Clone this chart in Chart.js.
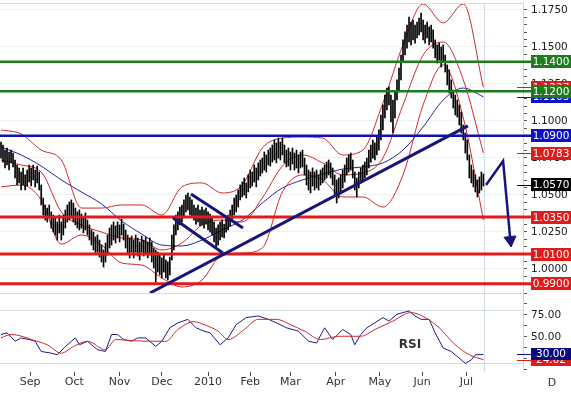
<!DOCTYPE html>
<html><head><meta charset="utf-8">
<script src="https://cdn.jsdelivr.net/npm/chart.js@4.4.1/dist/chart.umd.min.js"></script>
<style>
html,body{margin:0;padding:0;background:#fff;width:571px;height:393px;overflow:hidden}
canvas{position:absolute;left:0}
#pc{top:0}
#rc{top:290px}
</style></head><body>
<canvas id="pc" width="571" height="294"></canvas>
<canvas id="rc" width="571" height="103"></canvas>
<script>
// ---- Daily bars (USD/CHF, Aug 2009 - Jul 2010), bar index 0..240 ----
const highs = [
1.0857,1.0837,1.0803,1.0817,1.0790,1.0803,1.0783,1.0736,1.0702,1.0682,
1.0655,1.0682,1.0635,1.0668,1.0702,1.0682,1.0702,1.0668,1.0695,1.0655,
1.0567,1.0479,1.0432,1.0411,1.0432,1.0385,1.0364,1.0344,1.0317,1.0364,
1.0317,1.0364,1.0398,1.0432,1.0452,1.0466,1.0445,1.0411,1.0385,1.0398,
1.0371,1.0344,1.0378,1.0330,1.0297,1.0263,1.0249,1.0216,1.0229,1.0195,
1.0161,1.0128,1.0175,1.0229,1.0276,1.0297,1.0317,1.0290,1.0317,1.0297,
1.0337,1.0303,1.0263,1.0229,1.0209,1.0222,1.0195,1.0229,1.0209,1.0182,
1.0222,1.0195,1.0216,1.0182,1.0209,1.0182,1.0141,1.0128,1.0114,1.0094,
1.0074,1.0094,1.0060,1.0047,1.0080,1.0229,1.0297,1.0364,1.0385,1.0418,
1.0432,1.0466,1.0499,1.0513,1.0486,1.0466,1.0432,1.0411,1.0432,1.0398,
1.0418,1.0398,1.0411,1.0385,1.0371,1.0351,1.0317,1.0276,1.0297,1.0317,
1.0330,1.0303,1.0344,1.0364,1.0398,1.0432,1.0479,1.0499,1.0533,1.0567,
1.0587,1.0614,1.0581,1.0635,1.0668,1.0655,1.0702,1.0682,1.0716,1.0736,
1.0749,1.0790,1.0770,1.0803,1.0817,1.0837,1.0871,1.0851,1.0884,1.0857,
1.0884,1.0837,1.0803,1.0817,1.0790,1.0817,1.0783,1.0803,1.0770,1.0790,
1.0803,1.0749,1.0702,1.0668,1.0655,1.0682,1.0655,1.0668,1.0635,1.0668,
1.0682,1.0702,1.0722,1.0736,1.0716,1.0682,1.0635,1.0601,1.0614,1.0635,
1.0668,1.0702,1.0749,1.0770,1.0783,1.0736,1.0655,1.0614,1.0655,1.0682,
1.0702,1.0722,1.0749,1.0803,1.0837,1.0871,1.0851,1.0891,1.0939,1.1040,
1.1108,1.1175,1.1222,1.1229,1.1175,1.1141,1.1195,1.1277,1.1357,1.1445,
1.1547,1.1601,1.1648,1.1702,1.1668,1.1682,1.1648,1.1668,1.1695,1.1729,
1.1682,1.1648,1.1668,1.1635,1.1648,1.1615,1.1547,1.1513,1.1526,1.1499,
1.1513,1.1445,1.1378,1.1344,1.1277,1.1209,1.1175,1.1141,1.1108,1.1060,
1.0972,1.0918,1.0871,1.0770,1.0702,1.0668,1.0635,1.0601,1.0621,1.0655,
1.0641];
const lows = [
1.0749,1.0722,1.0682,1.0702,1.0668,1.0716,1.0689,1.0614,1.0567,1.0581,
1.0533,1.0567,1.0533,1.0560,1.0587,1.0560,1.0601,1.0554,1.0581,1.0533,
1.0432,1.0364,1.0330,1.0317,1.0344,1.0276,1.0249,1.0229,1.0195,1.0243,
1.0195,1.0229,1.0276,1.0317,1.0330,1.0344,1.0317,1.0297,1.0276,1.0263,
1.0276,1.0243,1.0263,1.0229,1.0195,1.0161,1.0128,1.0107,1.0114,1.0080,
1.0047,1.0013,1.0047,1.0094,1.0141,1.0161,1.0195,1.0175,1.0209,1.0182,
1.0229,1.0195,1.0141,1.0107,1.0074,1.0114,1.0074,1.0114,1.0087,1.0060,
1.0114,1.0087,1.0101,1.0074,1.0094,1.0047,1.0006,0.9911,0.9979,0.9959,
0.9939,0.9979,0.9939,0.9925,0.9959,1.0060,1.0128,1.0229,1.0263,1.0297,
1.0317,1.0344,1.0385,1.0398,1.0364,1.0351,1.0330,1.0303,1.0317,1.0290,
1.0297,1.0276,1.0303,1.0263,1.0249,1.0229,1.0182,1.0141,1.0161,1.0195,
1.0216,1.0209,1.0249,1.0263,1.0290,1.0330,1.0364,1.0385,1.0418,1.0466,
1.0486,1.0499,1.0479,1.0520,1.0547,1.0560,1.0587,1.0554,1.0601,1.0628,
1.0648,1.0668,1.0655,1.0702,1.0695,1.0722,1.0736,1.0716,1.0749,1.0736,
1.0770,1.0716,1.0689,1.0695,1.0668,1.0709,1.0668,1.0682,1.0648,1.0682,
1.0689,1.0635,1.0567,1.0533,1.0513,1.0560,1.0533,1.0547,1.0533,1.0567,
1.0581,1.0601,1.0614,1.0635,1.0614,1.0567,1.0499,1.0445,1.0479,1.0520,
1.0547,1.0587,1.0635,1.0655,1.0668,1.0614,1.0533,1.0486,1.0547,1.0581,
1.0601,1.0614,1.0635,1.0682,1.0722,1.0749,1.0736,1.0770,1.0803,1.0871,
1.0939,1.1020,1.1074,1.1108,1.0993,1.0918,1.1020,1.1141,1.1195,1.1277,
1.1398,1.1445,1.1492,1.1533,1.1513,1.1547,1.1526,1.1560,1.1581,1.1601,
1.1547,1.1526,1.1560,1.1513,1.1533,1.1492,1.1425,1.1391,1.1412,1.1364,
1.1398,1.1330,1.1243,1.1189,1.1155,1.1087,1.1040,1.1026,1.0972,1.0918,
1.0871,1.0783,1.0736,1.0614,1.0581,1.0554,1.0520,1.0486,1.0513,1.0533,
1.0560];

// ---- Indicator lines read at every 10th bar ----
const bandIdx  = [0,10,20,30,40,50,60,70,80,90,100,110,120,130,140,150,160,170,180,190,200,210,220,230,240];
const bbUpper  = [1.0939,1.0912,1.0803,1.0736,1.0411,1.0411,1.0432,1.0432,1.0364,1.0554,1.0581,1.0513,1.0567,1.0817,1.0884,1.0891,1.0884,1.0770,1.0803,1.1121,1.1513,1.1790,1.1662,1.1790,1.1227];
const bbMiddle = [1.0736,1.0702,1.0655,1.0385,1.0297,1.0249,1.0209,1.0195,1.0128,1.0175,1.0297,1.0330,1.0317,1.0479,1.0695,1.0770,1.0716,1.0635,1.0648,1.0749,1.1108,1.1445,1.1533,1.1277,1.0783];
const bbLower  = [1.0554,1.0567,1.0466,1.0168,1.0229,1.0161,1.0040,1.0026,0.9939,0.9878,0.9925,1.0094,1.0107,1.0141,1.0520,1.0635,1.0601,1.0486,1.0486,1.0418,1.0635,1.1108,1.1378,1.1020,1.0330];
const maBlue   = [1.0824,1.0770,1.0695,1.0601,1.0520,1.0439,1.0324,1.0236,1.0161,1.0155,1.0195,1.0263,1.0330,1.0445,1.0547,1.0601,1.0641,1.0675,1.0689,1.0716,1.0803,1.0959,1.1141,1.1222,1.1163];

// ---- RSI panel ----
const rsiIdx  = [0,3,7,10,14,17,20,25,28,32,37,39,43,48,52,55,58,61,65,68,72,77,80,84,88,93,97,101,104,109,113,117,122,128,133,137,142,148,153,157,161,165,170,174,176,179,182,186,190,193,197,200,203,206,209,213,216,220,224,227,231,234,236,240];
const rsiVals = [52.7,54.6,45,48.8,47,45,33.4,31.5,29.6,39,48.8,41,45,35.3,33.4,52.7,52.7,47,45,48.8,48.8,39.2,45,60.4,66,70,60.4,56.5,54.6,41,48.8,64,72,73.8,70,66,60.4,56.5,45,43,60.4,47,58.4,52.7,41,52.7,60.4,66,72,68,75.8,77.7,79.6,73.8,70,70,54.6,37.3,33.4,27.6,19.9,23.8,29.6,30];
const sigIdx  = [0,5,17,23,30,36,43,52,57,65,76,82,88,96,101,108,113,121,128,137,144,151,159,168,179,186,195,204,211,218,226,233,240];
const sigVals = [49,52.7,45.7,41,31.5,39,45,35.3,47,45.7,45,45,58.4,67.3,64,56.5,47,58.4,70,70,64,56.5,47,50.7,50.7,58.4,68,77.7,72,60.4,41,29.6,24.02];

// ---- Axis labels ----
const monthLabels = ['Sep','Oct','Nov','Dec','2010','Feb','Mar','Apr','May','Jun','Jul'];
const monthIdx    = [14.5,36.5,59,80,103,124,144,166.5,188.5,209.5,231.5];
const priceMajorTicks = [1.0000,1.0250,1.0500,1.0750,1.1000,1.1250,1.1500,1.1750];
const rsiMajorTicks = [25,50,75];
const rsiGuides = [20,80];

// ---- Support / resistance levels and drawn lines ----
const greenLevels = [1.1400,1.1200];
const blueLevels  = [1.0900];
const redLevels   = [1.0350,1.0100,0.9900];
const trendUp      = [[74.1,0.9837],[232.3,1.0966]];
const channelUpper = [[94.5,1.0506],[120.4,1.0276]];
const channelLower = [[85.6,1.0344],[110.4,1.0107]];
const forecastPath = [[241.3,1.0567],[249.8,1.0729],[253.4,1.0195]];

// ---- Right-hand value boxes ----
const priceBoxValues = [1.1227,1.1163,1.1400,1.1200,1.0900,1.0783,1.0570,1.0350,1.0100,0.9900];
const priceBoxColors = ['#e21a1a','#1010c8','#1d7d1d','#1d7d1d','#1010c8','#e21a1a','#000000','#e21a1a','#e21a1a','#e21a1a'];
const markValues = [1.1227,1.1163,1.0783,1.0570];
const markColors = ['#e21a1a','#1010c8','#e21a1a','#000000'];
const rsiBoxValues = [24.02,30.00];
const rsiBoxColors = ['#e21a1a','#0a0a80'];

const xMin = -0.5, xMax = 259.7, xEnd = 263.7;
const priceMin = 0.98372, priceMax = 1.17966;
const lastIdx = highs.length - 1;
const FONT = 'DejaVu Sans';

const zip = (xs, ys) => xs.map((x,k) => ({x, y: ys[k]}));
const pairs = arr => arr.map(([x,y]) => ({x, y}));
const lineDs = (data, color, width, order, extra) => Object.assign({
  type:'line', data, borderColor:color, borderWidth:width, pointRadius:0,
  fill:false, order, tension:0 }, extra || {});
const levelDs = (v, color, w) => lineDs([{x:xMin,y:v},{x:xEnd,y:v}], color, w, 1, {clip:false});
const fitY = s => { s.width = 48; s.paddingTop = 0; s.paddingBottom = 0; };

function drawBox(ctx, x, y, w, h, bg, text){
  ctx.fillStyle = bg; ctx.fillRect(x, Math.round(y - h/2), w, h);
  ctx.fillStyle = '#fff'; ctx.font = '10.5px "' + FONT + '"';
  ctx.textAlign = 'center'; ctx.textBaseline = 'middle';
  ctx.fillText(text, x + w/2, Math.round(y - h/2) + h/2 + 0.5);
}

const priceOverlay = {
  id:'priceOverlay',
  afterDraw(chart){
    const ctx = chart.ctx, ys = chart.scales.y, a = chart.chartArea;
    ctx.save();
    ctx.strokeStyle = '#d3dbe3'; ctx.lineWidth = 1;
    ctx.beginPath(); ctx.moveTo(0, a.top + 0.5); ctx.lineTo(a.right, a.top + 0.5); ctx.stroke();
    markValues.forEach((v,k) => {
      const y = Math.round(ys.getPixelForValue(v)) + 0.5;
      ctx.strokeStyle = markColors[k]; ctx.lineWidth = 1;
      ctx.beginPath(); ctx.moveTo(a.right - 6, y); ctx.lineTo(a.right + 8, y); ctx.stroke();
    });
    priceBoxValues.forEach((v,k) => drawBox(ctx, a.right + 8, ys.getPixelForValue(v), chart.width - a.right - 8, 13, priceBoxColors[k], v.toFixed(4)));
    ctx.restore();
  }
};

const rsiOverlay = {
  id:'rsiOverlay',
  afterDraw(chart){
    const ctx = chart.ctx, ys = chart.scales.y, xs = chart.scales.x, a = chart.chartArea;
    ctx.save();
    ctx.strokeStyle = '#d3dbe3'; ctx.lineWidth = 1;
    ctx.beginPath(); ctx.moveTo(0, a.top + 0.5); ctx.lineTo(a.right, a.top + 0.5); ctx.stroke();
    ctx.fillStyle = '#333'; ctx.font = 'bold 12px "' + FONT + '"';
    ctx.textAlign = 'center'; ctx.textBaseline = 'middle';
    ctx.fillText('RSI', xs.getPixelForValue(203.5), ys.getPixelForValue(41));
    ctx.font = '11px "' + FONT + '"'; ctx.fillStyle = '#333';
    ctx.fillText('D', chart.width - 19, a.bottom + 11);
    rsiBoxValues.forEach((v,k) => {
      const y = Math.round(ys.getPixelForValue(v)) + 0.5;
      ctx.strokeStyle = rsiBoxColors[k]; ctx.lineWidth = 1;
      ctx.beginPath(); ctx.moveTo(a.right - 6, y); ctx.lineTo(a.right + 8, y); ctx.stroke();
    });
    rsiBoxValues.forEach((v,k) => drawBox(ctx, a.right + 8, ys.getPixelForValue(v), chart.width - a.right - 8, 12, rsiBoxColors[k], v.toFixed(2)));
    ctx.restore();
  }
};

const isMajor = v => priceMajorTicks.some(t => Math.abs(t - v) < 1e-7);

new Chart(document.getElementById('pc'), {
  type:'bar',
  data:{ datasets:[
    {type:'bar', data: highs.map((h,i) => ({x:i, y:[lows[i], h]})), backgroundColor:'#000', borderWidth:0, barThickness:1, order:2},
    lineDs(zip(bandIdx,bbUpper), '#d02828', 1, 3, {tension:0.4, cubicInterpolationMode:'monotone'}),
    lineDs(zip(bandIdx,bbMiddle), '#d02828', 1, 3, {tension:0.4, cubicInterpolationMode:'monotone'}),
    lineDs(zip(bandIdx,bbLower), '#d02828', 1, 3, {tension:0.4, cubicInterpolationMode:'monotone'}),
    lineDs(zip(bandIdx,maBlue), '#2323a0', 1, 3, {tension:0.4, cubicInterpolationMode:'monotone'}),
    ...greenLevels.map(v => levelDs(v, '#1d7d1d', 2.5)),
    ...blueLevels.map(v => levelDs(v, '#1010b4', 2.5)),
    ...redLevels.map(v => levelDs(v, '#e21a1a', 3)),
    lineDs(pairs(trendUp), '#16167a', 3, 0),
    lineDs(pairs(channelUpper), '#16167a', 3, 0),
    lineDs(pairs(channelLower), '#16167a', 3, 0),
    lineDs(pairs(forecastPath), '#16167a', 2.5, 0, {pointRadius:[0,0,7], pointStyle:'triangle', rotation:174,
      pointBackgroundColor:'#16167a', pointBorderColor:'#16167a', pointBorderWidth:1, clip:false}),
    lineDs([{x:lastIdx+0.5,y:0.9},{x:lastIdx+0.5,y:1.2}], '#cdd9e4', 1, 4)
  ]},
  options:{
    responsive:false, animation:false, devicePixelRatio:1,
    layout:{autoPadding:false, padding:{top:3,bottom:1,left:0,right:0}},
    plugins:{legend:{display:false}, tooltip:{enabled:false}},
    scales:{
      x:{type:'linear', display:false, min:xMin, max:xMax, offset:false, grid:{offset:false}},
      y:{position:'right', min:priceMin, max:priceMax, beginAtZero:false,
        afterFit: fitY,
        afterBuildTicks(s){
          const t = [];
          priceMajorTicks.forEach(m => { for (let k = -2; k <= 2; k++) { const v = +(m + k*0.005).toFixed(4); if (v >= priceMin && v <= priceMax && !t.includes(v)) t.push(v); } });
          t.sort((p,q) => p - q);
          s.ticks = t.map(v => ({value:v}));
        },
        ticks:{ callback:v => isMajor(v) ? v.toFixed(4) : '', color:'#1a1a1a', font:{family:FONT,size:10.5}, padding:4, autoSkip:false },
        grid:{ color:c => (c.tick && isMajor(c.tick.value)) ? '#edf1f5' : 'rgba(0,0,0,0)', tickColor:'#555', tickLength:4 },
        border:{color:'#cfd8e0'}
      }
    }
  },
  plugins:[priceOverlay]
});

new Chart(document.getElementById('rc'), {
  type:'line',
  data:{ datasets:[
    {data: zip(sigIdx,sigVals), borderColor:'#d02828', borderWidth:1, pointRadius:0, tension:0.4, cubicInterpolationMode:'monotone'},
    {data: zip(rsiIdx,rsiVals), borderColor:'#1c1c8a', borderWidth:1, pointRadius:0, tension:0},
    {data: [{x:lastIdx+0.5,y:0},{x:lastIdx+0.5,y:110}], borderColor:'#cdd9e4', borderWidth:1, pointRadius:0}
  ]},
  options:{
    responsive:false, animation:false, devicePixelRatio:1,
    layout:{autoPadding:false, padding:{top:3,bottom:0,left:0,right:0}},
    plugins:{legend:{display:false}, tooltip:{enabled:false}},
    scales:{
      x:{type:'linear', min:xMin, max:xMax, offset:false,
        afterFit(s){ s.height = 21; s.paddingLeft = 0; s.paddingRight = 0; },
        afterBuildTicks(s){ s.ticks = monthIdx.map(v => ({value:v})); },
        ticks:{ autoSkip:false, maxRotation:0, callback:(v,i) => monthLabels[i], color:'#333', font:{family:FONT,size:11}, padding:0 },
        grid:{ drawOnChartArea:false, tickLength:4, color:'#444' },
        border:{display:false}
      },
      y:{position:'right', min:10, max:100,
        afterFit: fitY,
        afterBuildTicks(s){
          const t = [12.5,20,25,37.5,50,62.5,75,80,87.5,100];
          s.ticks = t.map(v => ({value:v}));
        },
        ticks:{ callback:v => rsiMajorTicks.includes(v) ? v.toFixed(2) : '', color:'#1a1a1a', font:{family:FONT,size:10.5}, padding:4, autoSkip:false },
        grid:{ color:c => (c.tick && rsiGuides.includes(c.tick.value)) ? '#d5dfe8' : 'rgba(0,0,0,0)',
               tickColor:c => (c.tick && rsiGuides.includes(c.tick.value)) ? 'rgba(0,0,0,0)' : '#555', tickLength:4 },
        border:{color:'#cfd8e0'}
      }
    }
  },
  plugins:[rsiOverlay]
});
</script>
</body></html>
